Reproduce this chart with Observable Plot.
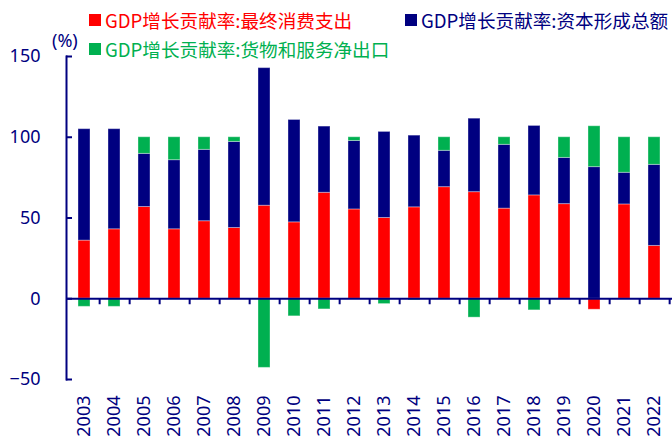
<!DOCTYPE html>
<html>
<head>
<meta charset="utf-8">
<script src="https://cdn.jsdelivr.net/npm/d3@7"></script>
<script src="https://cdn.jsdelivr.net/npm/@observablehq/plot@0.6"></script>
<style>
  html, body { margin: 0; padding: 0; background: #fff; }
  #wrap { position: relative; width: 672px; height: 439px; overflow: hidden; }
  .leg { position: absolute; font-family: "Noto Sans CJK SC", sans-serif; font-size: 18.6px; line-height: 1; white-space: nowrap; display: flex; align-items: center; }
  .sw { display: inline-block; width: 12px; height: 12px; margin-right: 4px; }
  #unit { position: absolute; left: 52px; top: 28px; font-family: "Noto Sans", sans-serif; font-size: 18px; color: #000080; }
</style>
</head>
<body>
<div id="wrap">
  <div id="chart"></div>
  <div id="legend"></div>
  <div id="unit">(%)</div>
</div>
<script>
const years = ["2003","2004","2005","2006","2007","2008","2009","2010","2011","2012","2013","2014","2015","2016","2017","2018","2019","2020","2021","2022"];
const consumption = [36, 43, 56.8, 43, 48, 43.8, 57.6, 47.3, 65.6, 55.3, 50, 56.6, 69.1, 66, 55.8, 64, 58.6, -6.8, 58.4, 32.7];
const capital = [69, 62, 32.9, 42.8, 44.2, 53.3, 85.2, 63.4, 41, 42.4, 53.3, 44.4, 22.5, 45.5, 39.5, 43, 28.6, 81.5, 19.6, 50.2];
const netExports = [-5, -5, 10.3, 14.2, 7.8, 2.9, -42.8, -10.9, -6.6, 2.3, -3.3, -1, 8.4, -11.7, 4.7, -7.2, 12.8, 25.3, 22, 17.1];
const seriesNames = ["GDP增长贡献率:最终消费支出", "GDP增长贡献率:资本形成总额", "GDP增长贡献率:货物和服务净出口"];
const seriesColors = ["#ff0000", "#000080", "#00b050"];
const yTicks = [-50, 0, 50, 100, 150];

const seriesValues = [consumption, capital, netExports];
const data = [];
seriesNames.forEach((s, si) => years.forEach((y, i) => data.push({year: y, series: s, value: seriesValues[si][i]})));

const W = 672, H = 439, mL = 66, mR = 0, mT = 56, mB = 60;
const step = (W - mL - mR) / years.length;
const navy = "#000080";

const chart = Plot.plot({
  width: W, height: H,
  marginLeft: mL, marginRight: mR, marginTop: mT, marginBottom: mB,
  style: {fontFamily: "'Noto Sans', sans-serif", fontSize: "18px", color: navy, background: "white"},
  x: {domain: years, paddingInner: 0.59, paddingOuter: 0.295, label: null},
  y: {domain: [-50, 150], label: null},
  color: {domain: seriesNames, range: seriesColors},
  marks: [
    Plot.barY(data, {x: "year", y: "value", z: "series", fill: "series", order: seriesNames, stroke: "white", strokeOpacity: 0.35, strokeWidth: 1}),
    Plot.ruleY([0], {stroke: navy, strokeWidth: 2}),
    Plot.ruleX(years, {x: d => d, y1: 0, y2: 0, dx: step / 2, insetBottom: -6, stroke: navy, strokeWidth: 2}),
    Plot.frame({anchor: "left", stroke: navy, strokeWidth: 2}),
    Plot.axisY({ticks: yTicks, tickSize: 6, dx: 6, tickFormat: () => "", stroke: navy, strokeWidth: 2}),
    Plot.axisY({ticks: yTicks, tickSize: 0, tickPadding: 26, fill: navy, fontSize: 18}),
    Plot.axisX({tickSize: 0, tickRotate: -90, tickPadding: 16, fill: navy, fontSize: 18})
  ]
});
document.getElementById("chart").appendChild(chart);

const legendPos = [{left: 89, top: 11}, {left: 405, top: 11}, {left: 89, top: 40}];
const legend = document.getElementById("legend");
seriesNames.forEach((s, i) => {
  const d = document.createElement("div");
  d.className = "leg";
  d.style.left = legendPos[i].left + "px";
  d.style.top = legendPos[i].top + "px";
  d.style.color = seriesColors[i];
  d.innerHTML = `<span class="sw" style="background:${seriesColors[i]}"></span><span>${s}</span>`;
  legend.appendChild(d);
});
</script>
</body>
</html>
